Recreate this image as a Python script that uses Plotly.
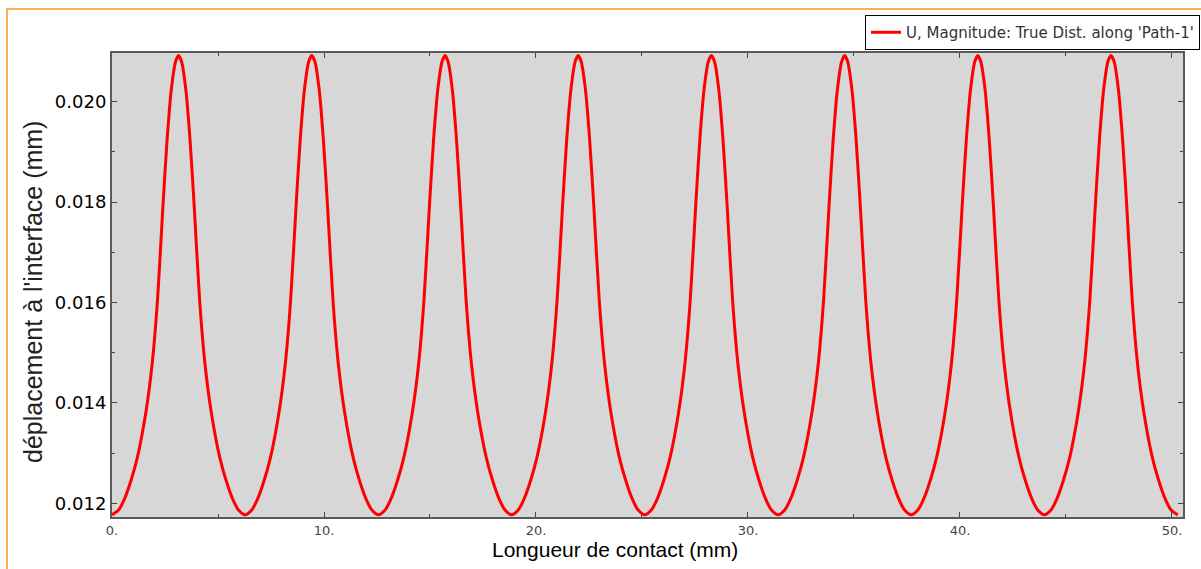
import plotly.graph_objects as go

# Longueur de contact (mm) – positions
x_mm = [
    0.00, 0.30, 0.60, 0.90, 1.20, 1.60, 1.90, 2.15, 2.40, 2.60, 2.80, 3.00, 3.14, 3.28, 3.48, 3.68, 3.88, 4.13, 4.38, 4.68, 5.08, 5.38, 5.68, 5.98,
    6.28, 6.58, 6.88, 7.18, 7.48, 7.88, 8.18, 8.43, 8.68, 8.88, 9.08, 9.28, 9.42, 9.57, 9.77, 9.97, 10.17, 10.42, 10.67, 10.97, 11.37, 11.67, 11.97, 12.27,
    12.57, 12.87, 13.17, 13.47, 13.77, 14.17, 14.47, 14.72, 14.97, 15.17, 15.37, 15.57, 15.71, 15.85, 16.05, 16.25, 16.45, 16.70, 16.95, 17.25, 17.65, 17.95, 18.25, 18.55,
    18.85, 19.15, 19.45, 19.75, 20.05, 20.45, 20.75, 21.00, 21.25, 21.45, 21.65, 21.85, 21.99, 22.13, 22.33, 22.53, 22.73, 22.98, 23.23, 23.53, 23.93, 24.23, 24.53, 24.83,
    25.13, 25.43, 25.73, 26.03, 26.33, 26.73, 27.03, 27.28, 27.53, 27.73, 27.93, 28.13, 28.27, 28.42, 28.62, 28.82, 29.02, 29.27, 29.52, 29.82, 30.22, 30.52, 30.82, 31.12,
    31.42, 31.72, 32.02, 32.32, 32.62, 33.02, 33.32, 33.57, 33.82, 34.02, 34.22, 34.42, 34.56, 34.70, 34.90, 35.10, 35.30, 35.55, 35.80, 36.10, 36.50, 36.80, 37.10, 37.40,
    37.70, 38.00, 38.30, 38.60, 38.90, 39.30, 39.60, 39.85, 40.10, 40.30, 40.50, 40.70, 40.84, 40.98, 41.18, 41.38, 41.58, 41.83, 42.08, 42.38, 42.78, 43.08, 43.38, 43.68,
    43.98, 44.28, 44.58, 44.88, 45.18, 45.58, 45.88, 46.13, 46.38, 46.58, 46.78, 46.98, 47.12, 47.27, 47.47, 47.67, 47.87, 48.12, 48.37, 48.67, 49.07, 49.37, 49.67, 49.97,
    50.27,
]

# U, Magnitude (mm)
u_mag = [
    0.01177, 0.01186, 0.01210, 0.01246, 0.01292, 0.01382, 0.01480, 0.01607, 0.01790, 0.01925, 0.02025, 0.02080, 0.02092, 0.02080, 0.02025, 0.01925, 0.01790, 0.01607, 0.01480, 0.01382, 0.01292, 0.01246, 0.01210, 0.01186,
    0.01177, 0.01186, 0.01210, 0.01246, 0.01292, 0.01382, 0.01480, 0.01607, 0.01790, 0.01925, 0.02025, 0.02080, 0.02092, 0.02080, 0.02025, 0.01925, 0.01790, 0.01607, 0.01480, 0.01382, 0.01292, 0.01246, 0.01210, 0.01186,
    0.01177, 0.01186, 0.01210, 0.01246, 0.01292, 0.01382, 0.01480, 0.01607, 0.01790, 0.01925, 0.02025, 0.02080, 0.02092, 0.02080, 0.02025, 0.01925, 0.01790, 0.01607, 0.01480, 0.01382, 0.01292, 0.01246, 0.01210, 0.01186,
    0.01177, 0.01186, 0.01210, 0.01246, 0.01292, 0.01382, 0.01480, 0.01607, 0.01790, 0.01925, 0.02025, 0.02080, 0.02092, 0.02080, 0.02025, 0.01925, 0.01790, 0.01607, 0.01480, 0.01382, 0.01292, 0.01246, 0.01210, 0.01186,
    0.01177, 0.01186, 0.01210, 0.01246, 0.01292, 0.01382, 0.01480, 0.01607, 0.01790, 0.01925, 0.02025, 0.02080, 0.02092, 0.02080, 0.02025, 0.01925, 0.01790, 0.01607, 0.01480, 0.01382, 0.01292, 0.01246, 0.01210, 0.01186,
    0.01177, 0.01186, 0.01210, 0.01246, 0.01292, 0.01382, 0.01480, 0.01607, 0.01790, 0.01925, 0.02025, 0.02080, 0.02092, 0.02080, 0.02025, 0.01925, 0.01790, 0.01607, 0.01480, 0.01382, 0.01292, 0.01246, 0.01210, 0.01186,
    0.01177, 0.01186, 0.01210, 0.01246, 0.01292, 0.01382, 0.01480, 0.01607, 0.01790, 0.01925, 0.02025, 0.02080, 0.02092, 0.02080, 0.02025, 0.01925, 0.01790, 0.01607, 0.01480, 0.01382, 0.01292, 0.01246, 0.01210, 0.01186,
    0.01177, 0.01186, 0.01210, 0.01246, 0.01292, 0.01382, 0.01480, 0.01607, 0.01790, 0.01925, 0.02025, 0.02080, 0.02092, 0.02080, 0.02025, 0.01925, 0.01790, 0.01607, 0.01480, 0.01382, 0.01292, 0.01246, 0.01210, 0.01186,
    0.01177,
]

x_tick_vals = [0, 10, 20, 30, 40, 50]
x_tick_text = ["0.", "10.", "20.", "30.", "40.", "50."]
y_tick_vals = [0.012, 0.014, 0.016, 0.018, 0.020]
y_tick_text = ["0.012", "0.014", "0.016", "0.018", "0.020"]

series_name = "U, Magnitude: True Dist. along 'Path-1'"
x_title = "Longueur de contact (mm)"
y_title = "déplacement à l'interface (mm)"

fig = go.Figure()
fig.add_trace(go.Scatter(
    x=x_mm, y=u_mag, mode="lines", name=series_name,
    line=dict(color="#FF0000", width=3, shape="spline", smoothing=0.7),
))

axis_common = dict(
    showgrid=False, zeroline=False, showline=True, linecolor="#5a5a5a", linewidth=2,
    mirror="allticks", ticks="inside", ticklen=5, tickwidth=1, tickcolor="#444444",
)

fig.update_layout(
    width=1201, height=569,
    margin=dict(l=112, r=18, t=53, b=52, autoexpand=False),
    paper_bgcolor="white",
    plot_bgcolor="#D7D7D7",
    showlegend=True,
    legend=dict(
        x=(1200 - 112) / 1071, xanchor="right", y=1 + (53 - 15) / 464, yanchor="top",
        bgcolor="white", bordercolor="black", borderwidth=1,
        font=dict(family="DejaVu Sans", size=15, color="#333333"),
        itemwidth=30,
    ),
    xaxis=dict(
        range=[0, 50.52], tickvals=x_tick_vals, ticktext=x_tick_text,
        tickfont=dict(family="DejaVu Sans", size=13, color="#444444"),
        minor=dict(dtick=5, tick0=0, ticks="inside", ticklen=3, tickcolor="#444444"),
        **axis_common,
    ),
    yaxis=dict(
        range=[0.011727, 0.02097], tickvals=y_tick_vals, ticktext=y_tick_text,
        tickfont=dict(family="DejaVu Sans", size=18, color="black"),
        minor=dict(dtick=0.001, tick0=0.011, ticks="inside", ticklen=3, tickcolor="#444444"),
        **axis_common,
    ),
    annotations=[
        dict(text=x_title, xref="paper", yref="paper", x=(615 - 112) / 1071, y=(517 - 549) / 464,
             xanchor="center", yanchor="middle", showarrow=False,
             font=dict(family="Liberation Sans", size=21, color="black")),
        dict(text=y_title, xref="paper", yref="paper", x=(33 - 112) / 1071, y=0.485,
             xanchor="center", yanchor="middle", textangle=-90, showarrow=False,
             font=dict(family="Liberation Sans", size=25, color="#222222")),
    ],
    shapes=[
        dict(type="rect", xref="paper", yref="paper",
             x0=(7 - 112) / 1071, x1=1.2, y0=-0.3, y1=1 + (53 - 9) / 464,
             line=dict(color="#FFAD5C", width=2), fillcolor="rgba(0,0,0,0)", layer="below"),
    ],
)

fig.write_html("out.html")
